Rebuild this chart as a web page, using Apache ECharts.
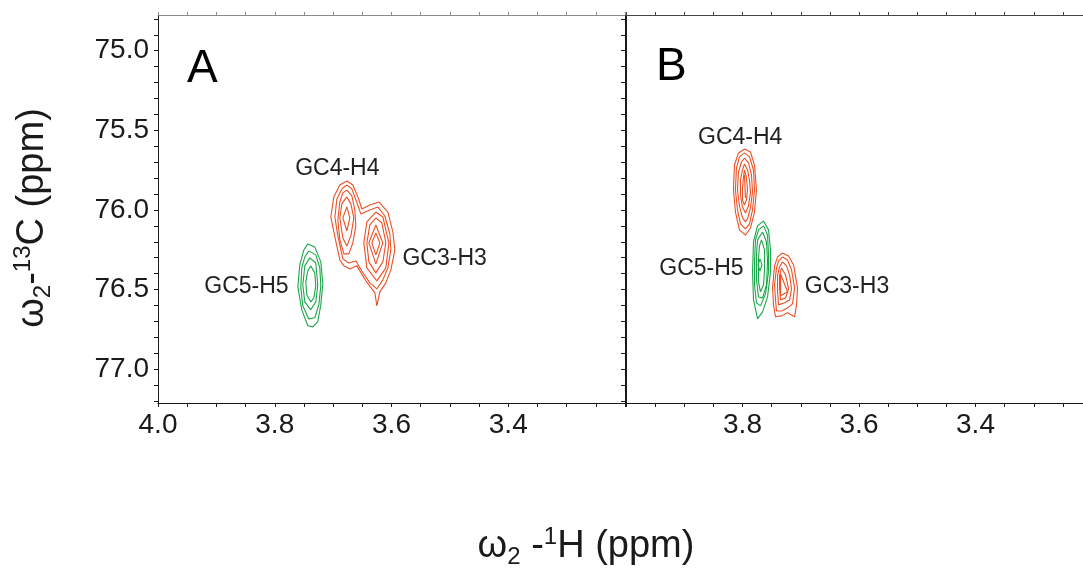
<!DOCTYPE html>
<html><head><meta charset="utf-8">
<script src="https://cdn.jsdelivr.net/npm/echarts@6/dist/echarts.min.js"></script>
<style>html,body{margin:0;padding:0;background:#fff}#c{width:1083px;height:569px}</style>
</head><body><div id="c"></div>
<script>
// ---------- axes (ppm) ----------
const xRange = [3.2, 4.0];
const yRange = [74.776, 77.212];
const xTickLabelsA = [4.0, 3.8, 3.6, 3.4];
const xTickLabelsB = [3.8, 3.6, 3.4];
const yTickLabels = [75.0, 75.5, 76.0, 76.5, 77.0];
const xMinorTicks = [4.0,3.95,3.9,3.85,3.8,3.75,3.7,3.65,3.6,3.55,3.5,3.45,3.4,3.35,3.3,3.25,3.2];
const yMinorTicks = [74.8,74.9,75.0,75.1,75.2,75.3,75.4,75.5,75.6,75.7,75.8,75.9,76.0,76.1,76.2,76.3,76.4,76.5,76.6,76.7,76.8,76.9,77.0,77.1,77.2];

// ---------- contour rings [1H ppm, 13C ppm] ----------
// Panel A : GC4-H4 / GC3-H3 (merged outer levels)
const A_merged = [
  [[3.6765,75.818],[3.6662,75.843],[3.6576,75.918],[3.6508,75.994],[3.6371,75.969],[3.6217,75.950],[3.6062,76.013],[3.5977,76.138],[3.5942,76.251],[3.6011,76.376],[3.6097,76.458],[3.620,76.514],[3.6251,76.602],[3.6285,76.521],[3.6439,76.445],[3.6594,76.351],[3.6713,76.370],[3.6816,76.351],[3.6885,76.314],[3.697,76.169],[3.7039,76.044],[3.6988,75.918],[3.6885,75.843]],
  [[3.6765,75.843],[3.6679,75.868],[3.6611,75.937],[3.6525,76.025],[3.6371,76.0],[3.6234,75.981],[3.6114,76.038],[3.6028,76.151],[3.6011,76.251],[3.6062,76.364],[3.6148,76.439],[3.6251,76.496],[3.6371,76.458],[3.6508,76.383],[3.6611,76.320],[3.6731,76.333],[3.6833,76.307],[3.6919,76.163],[3.697,76.044],[3.6936,75.931],[3.6851,75.868]]
];
const A_GC4 = [
  [[3.6765,75.875],[3.6679,75.912],[3.6628,76.0],[3.6611,76.100],[3.6662,76.207],[3.6731,76.276],[3.6816,76.276],[3.6885,76.188],[3.6919,76.063],[3.6885,75.950],[3.6833,75.893]],
  [[3.6765,75.918],[3.6696,75.962],[3.6645,76.050],[3.6696,76.163],[3.6765,76.226],[3.6833,76.176],[3.6885,76.050],[3.6851,75.962]],
  [[3.6765,75.981],[3.6713,76.050],[3.6765,76.132],[3.6833,76.050]]
];
const A_GC3 = [
  [[3.6268,76.013],[3.6148,76.044],[3.6045,76.207],[3.6097,76.364],[3.6251,76.445],[3.6422,76.364],[3.6474,76.207],[3.6422,76.075]],
  [[3.6268,76.050],[3.6165,76.082],[3.6097,76.207],[3.6148,76.326],[3.6268,76.395],[3.6388,76.326],[3.6422,76.207],[3.6371,76.094]],
  [[3.6268,76.094],[3.6148,76.207],[3.6268,76.339],[3.6388,76.207]],
  [[3.6268,76.144],[3.620,76.207],[3.6268,76.282],[3.6337,76.207]]
];
const A_GC5 = [
  [[3.7434,76.213],[3.7314,76.232],[3.7211,76.326],[3.7177,76.464],[3.7211,76.596],[3.7263,76.702],[3.7348,76.734],[3.7434,76.727],[3.7537,76.627],[3.7605,76.483],[3.7571,76.345],[3.7502,76.251]],
  [[3.7417,76.257],[3.7297,76.282],[3.7228,76.364],[3.7211,76.477],[3.7245,76.596],[3.7314,76.677],[3.7417,76.684],[3.752,76.602],[3.7554,76.483],[3.7537,76.364],[3.7485,76.295]],
  [[3.740,76.301],[3.7297,76.333],[3.7263,76.471],[3.7297,76.577],[3.7383,76.627],[3.7485,76.577],[3.752,76.471],[3.7485,76.351]],
  [[3.7383,76.351],[3.7314,76.395],[3.7297,76.477],[3.7331,76.552],[3.7383,76.577],[3.7451,76.533],[3.7468,76.452],[3.7434,76.383]]
];
// Panel B
const B_GC4 = [
  [[3.7966,75.617],[3.7863,75.636],[3.7794,75.718],[3.776,75.875],[3.7794,76.013],[3.7863,76.113],[3.7949,76.157],[3.8052,76.125],[3.8121,76.013],[3.8155,75.875],[3.8138,75.718],[3.8069,75.642]],
  [[3.7966,75.642],[3.788,75.667],[3.7811,75.749],[3.7794,75.875],[3.7828,76.0],[3.788,76.088],[3.7949,76.119],[3.8035,76.088],[3.8086,76.0],[3.8121,75.875],[3.8104,75.736],[3.8052,75.667]],
  [[3.7966,75.674],[3.7897,75.705],[3.7846,75.780],[3.7828,75.887],[3.7863,75.987],[3.7914,76.056],[3.7949,76.075],[3.800,76.050],[3.8052,75.975],[3.8086,75.875],[3.8069,75.762],[3.8018,75.699]],
  [[3.7966,75.711],[3.7914,75.749],[3.788,75.812],[3.7863,75.893],[3.7897,75.975],[3.7949,76.019],[3.800,75.981],[3.8035,75.906],[3.8035,75.812],[3.800,75.749]],
  [[3.7966,75.749],[3.7932,75.799],[3.7914,75.875],[3.7932,75.937],[3.7966,75.969],[3.800,75.937],[3.800,75.862],[3.7983,75.793]],
  [[3.7966,75.780],[3.7949,75.925],[3.7983,75.925]]
];
const B_GC5 = [
  [[3.7639,76.069],[3.7553,76.125],[3.7519,76.251],[3.7519,76.389],[3.757,76.546],[3.7656,76.640],[3.7742,76.684],[3.7811,76.565],[3.7828,76.389],[3.7811,76.201],[3.7742,76.100]],
  [[3.7639,76.100],[3.757,76.157],[3.7553,76.282],[3.7553,76.389],[3.7605,76.527],[3.7691,76.602],[3.776,76.583],[3.7794,76.471],[3.7794,76.326],[3.7777,76.188],[3.7725,76.125]],
  [[3.7656,76.138],[3.7588,76.201],[3.757,76.326],[3.7588,76.471],[3.7656,76.552],[3.7725,76.546],[3.776,76.439],[3.776,76.282],[3.7742,76.188]],
  [[3.7674,76.188],[3.7622,76.251],[3.7622,76.376],[3.7639,76.471],[3.7691,76.514],[3.7725,76.452],[3.7725,76.301],[3.7708,76.226]],
  [[3.77,76.307],[3.7665,76.345],[3.77,76.383],[3.7734,76.345]]
];
const B_GC3 = [
  [[3.7313,76.270],[3.7209,76.289],[3.7123,76.345],[3.7055,76.489],[3.7072,76.596],[3.7106,76.671],[3.7227,76.646],[3.733,76.665],[3.7433,76.671],[3.7467,76.596],[3.7484,76.489],[3.745,76.351],[3.7398,76.295]],
  [[3.7313,76.295],[3.7227,76.314],[3.7158,76.376],[3.7106,76.489],[3.7141,76.590],[3.7227,76.615],[3.733,76.634],[3.7416,76.634],[3.7433,76.565],[3.745,76.471],[3.7416,76.364],[3.7381,76.320]],
  [[3.7313,76.326],[3.7244,76.351],[3.7192,76.408],[3.7158,76.496],[3.7192,76.565],[3.7278,76.583],[3.7381,76.596],[3.7398,76.514],[3.7398,76.414],[3.7364,76.358]],
  [[3.733,76.364],[3.7261,76.408],[3.7209,76.496],[3.7261,76.552],[3.7347,76.565],[3.7364,76.489],[3.7364,76.414]],
  [[3.7347,76.402],[3.7227,76.514],[3.7347,76.539]]
];

// peak annotations [1H ppm, 13C ppm]
const labelsA = [
  {name:'GC4-H4', value:[3.6928,75.740]},
  {name:'GC3-H3', value:[3.509,76.304]},
  {name:'GC5-H5', value:[3.8485,76.482]}
];
const labelsB = [
  {name:'GC4-H4', value:[3.804,75.547]},
  {name:'GC5-H5', value:[3.8705,76.367]},
  {name:'GC3-H3', value:[3.6206,76.482]}
];

// ---------- build ----------
const ORANGE = '#EC5024', GREEN = '#1CA64A';
const FONT = "'Liberation Sans', Arial, sans-serif";
const AXC = '#1a1a1a';

function ringSeries(rings, color, xi, yi) {
  return rings.map(r => ({
    type: 'line', xAxisIndex: xi, yAxisIndex: yi,
    data: r.concat([r[0]]),
    symbol: 'none', smooth: false, silent: true, animation: false,
    lineStyle: { color: color, width: 1.1 }
  }));
}
function labelSeries(data, xi, yi) {
  return {
    type: 'scatter', xAxisIndex: xi, yAxisIndex: yi, data: data,
    symbolSize: 1, itemStyle: { color: '#ffffff', opacity: 1 }, silent: true, animation: false, z: 10,
    label: { show: true, position: 'inside', formatter: '{b}', fontSize: 23, color: '#222222', opacity: 1, fontFamily: FONT, textBorderWidth: 0 }
  };
}
function xAx(grid, pos, labels, lineColor) {
  return {
    type: 'value', gridIndex: grid, position: pos, min: xRange[0], max: xRange[1], inverse: true,
    axisLine: { show: true, onZero: false, lineStyle: { color: lineColor, width: 1 } },
    axisTick: { show: true, customValues: xMinorTicks, length: pos === 'top' ? 3 : 4, inside: false, lineStyle: { color: lineColor } },
    axisLabel: labels ? { show: true, customValues: labels, formatter: v => Number(v).toFixed(1), fontSize: 28, color: AXC, fontFamily: FONT, margin: 8 } : { show: false },
    splitLine: { show: false }
  };
}
function yAx(grid, pos, labels, inside) {
  return {
    type: 'value', gridIndex: grid, position: pos, min: yRange[0], max: yRange[1], inverse: true,
    axisLine: { show: true, onZero: false, lineStyle: { color: AXC, width: 1 } },
    axisTick: { show: true, customValues: yMinorTicks, length: 4, inside: inside, lineStyle: { color: AXC } },
    axisLabel: labels ? { show: true, customValues: labels, formatter: v => Number(v).toFixed(1), fontSize: 28, color: AXC, fontFamily: FONT, margin: 9 } : { show: false },
    splitLine: { show: false }
  };
}

const series = [].concat(
  ringSeries(A_merged, ORANGE, 0, 0),
  ringSeries(A_GC4, ORANGE, 0, 0),
  ringSeries(A_GC3, ORANGE, 0, 0),
  ringSeries(A_GC5, GREEN, 0, 0),
  ringSeries(B_GC4, ORANGE, 2, 2),
  ringSeries(B_GC5, GREEN, 2, 2),
  ringSeries(B_GC3, ORANGE, 2, 2),
  [labelSeries(labelsA, 0, 0), labelSeries(labelsB, 2, 2)]
);

const titleRich = {
  m: { fontSize: 38, fontFamily: FONT, lineHeight: 44, fill: '#1a1a1a', verticalAlign: 'middle' },
  s: { fontSize: 24, fontFamily: FONT, lineHeight: 24, fill: '#1a1a1a', verticalAlign: 'bottom' },
  p: { fontSize: 24, fontFamily: FONT, lineHeight: 24, fill: '#1a1a1a', verticalAlign: 'top' }
};

const chart = echarts.init(document.getElementById('c'), null, { renderer: 'canvas' });
chart.setOption({
  backgroundColor: '#fff',
  animation: false,
  grid: [
    { left: 158, top: 15, width: 467, height: 388, outerBoundsMode: 'none', containLabel: false },
    { left: 626, top: 15, width: 466, height: 388, outerBoundsMode: 'none', containLabel: false }
  ],
  xAxis: [
    xAx(0, 'bottom', xTickLabelsA, AXC),
    xAx(0, 'top', null, '#8a8a8a'),
    xAx(1, 'bottom', xTickLabelsB, AXC),
    xAx(1, 'top', null, '#444')
  ],
  yAxis: [
    yAx(0, 'left', yTickLabels, false),
    yAx(0, 'right', null, true),
    yAx(1, 'left', null, false)
  ],
  series: series,
  graphic: [
    { type: 'text', x: 187, y: 69, style: { text: 'A', fontSize: 46, fontFamily: FONT, fill: '#000', align: 'left', verticalAlign: 'middle' } },
    { type: 'text', x: 656, y: 67, style: { text: 'B', fontSize: 46, fontFamily: FONT, fill: '#000', align: 'left', verticalAlign: 'middle' } },
    { type: 'text', x: 33, y: 218, rotation: Math.PI / 2,
      style: { text: '{m|ω}{s|2}{m|-}{p|13}{m|C (ppm)}', align: 'center', verticalAlign: 'middle', fill: '#1a1a1a', rich: titleRich } },
    { type: 'text', x: 586, y: 547,
      style: { text: '{m|ω}{s|2}{m| -}{p|1}{m|H (ppm)}', align: 'center', verticalAlign: 'middle', fill: '#1a1a1a', rich: titleRich } }
  ]
});
</script>
</body></html>
